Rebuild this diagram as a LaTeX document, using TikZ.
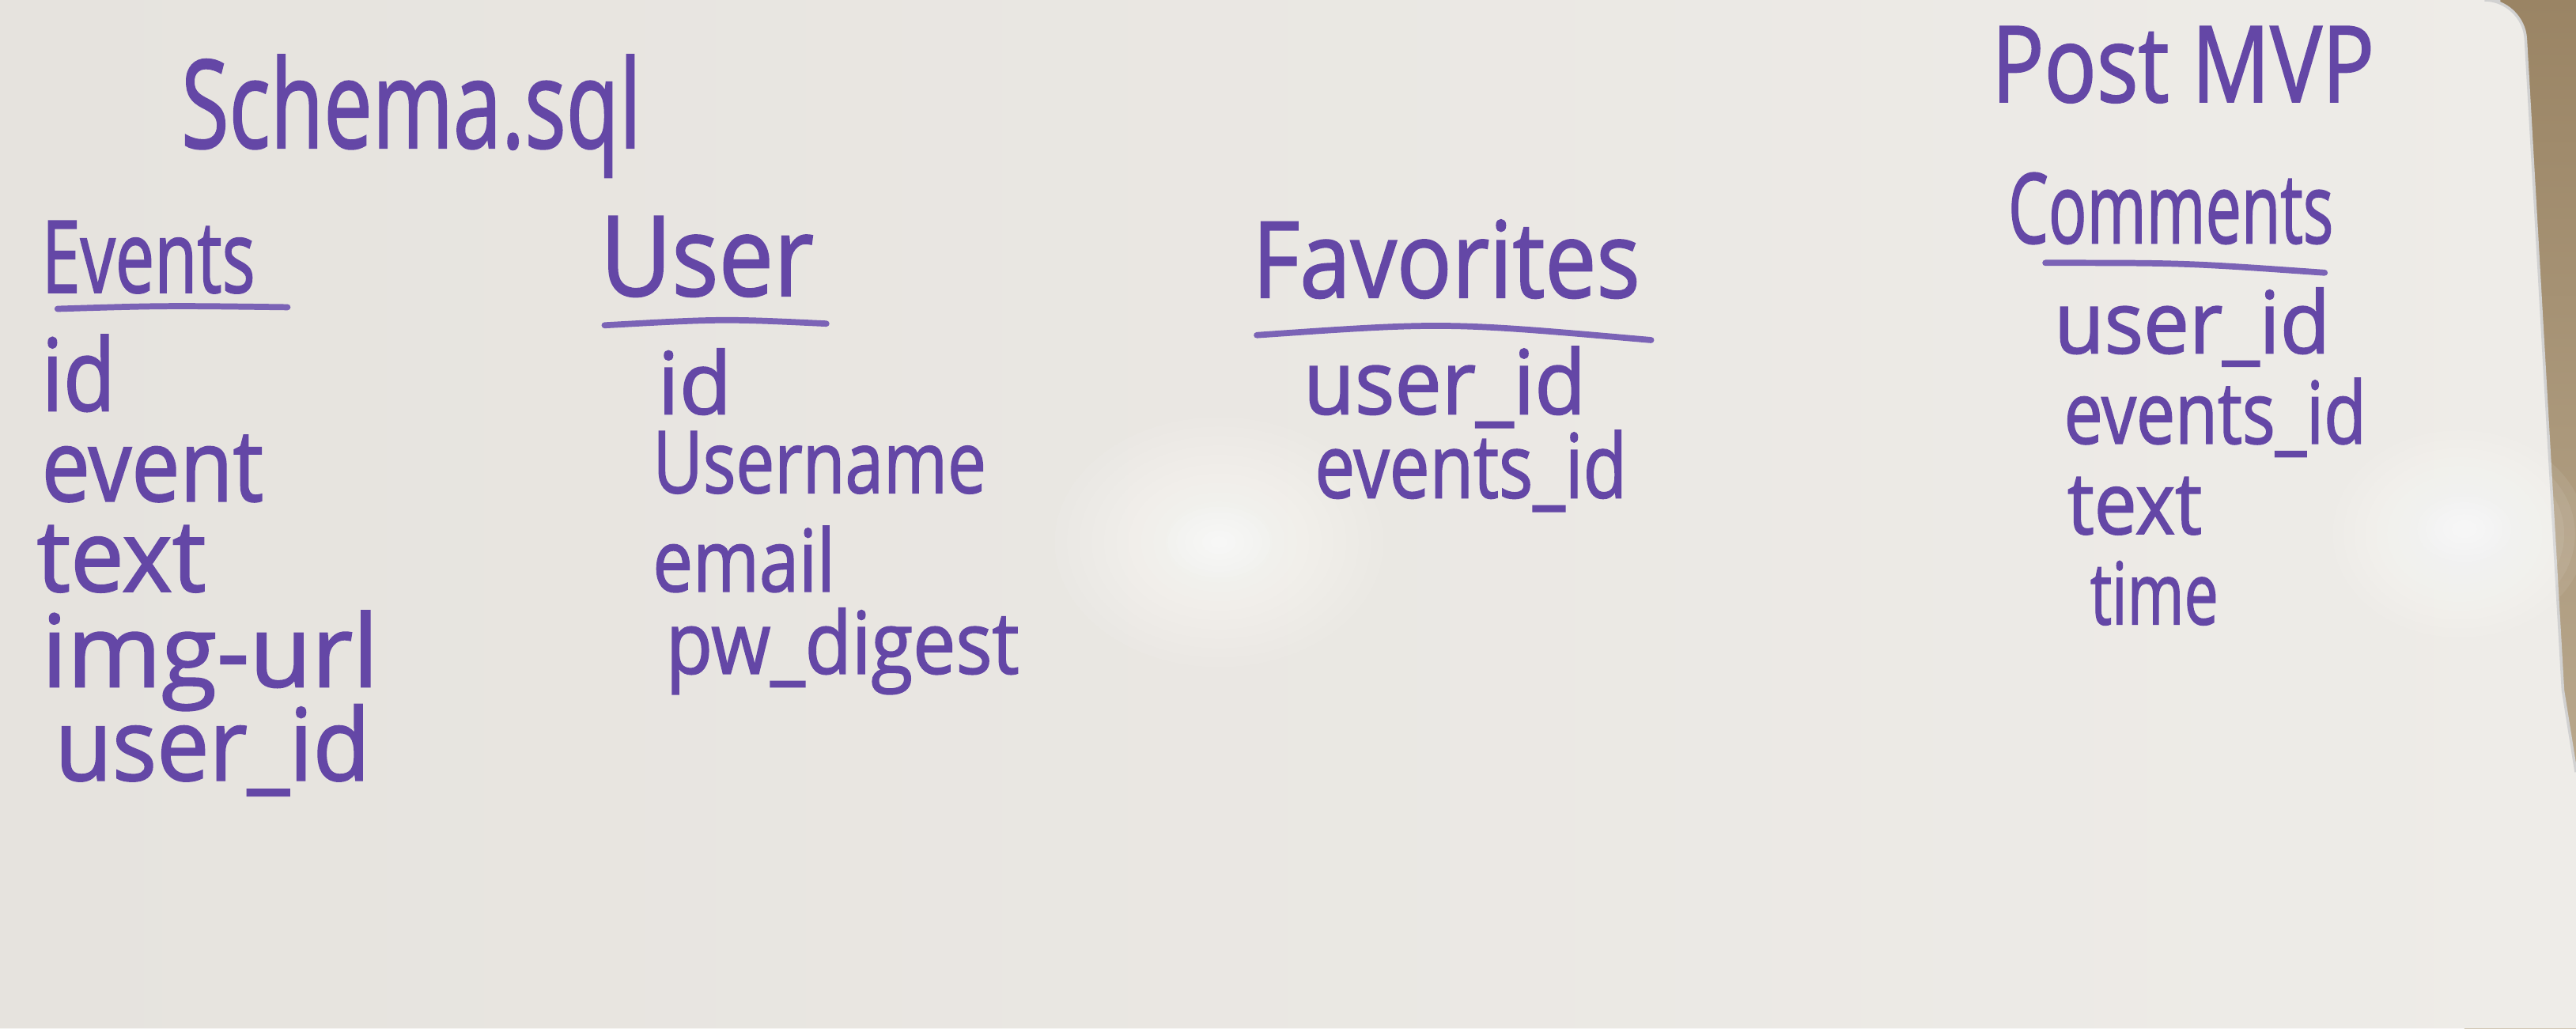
\documentclass[tikz,border=0pt]{standalone}
\usepackage{fontspec}
\setmainfont{Open Sans}
\newfontfamily\hwfont{Open Sans}[FakeBold=1.6]
\usepackage{graphicx}
\definecolor{boardL}{HTML}{E6E3DE}
\definecolor{boardR}{HTML}{EEECE8}
\definecolor{ink}{HTML}{6447A6}
\definecolor{inkL}{HTML}{7B63B6}
\definecolor{woodT}{HTML}{9A8464}
\definecolor{woodB}{HTML}{C2B39A}
\newlength\dpxunit
\setlength\dpxunit{0.02077cm}
\newcommand\hwtext[3]{\resizebox{#1\dpxunit}{\height}{\fontsize{#2}{#2}\selectfont\hwfont #3}}
\begin{document}
\begin{tikzpicture}[x=0.02077cm, y=-0.02077cm,
  hw/.style={anchor=base west, inner sep=0pt, text=ink},
  uline/.style={draw=inkL, line width=2.2pt, line cap=round}]
\useasboundingbox (0,0) rectangle (1568,626);
% wall / frame behind board
\shade[top color=woodT, bottom color=woodB] (1500,0) rectangle (1568,626);
% board
\shade[left color=boardL, right color=boardR]
  (0,626) -- (0,0) [rounded corners=14] -- (1536,0) [sharp corners] -- (1560,420) -- (1568,470) -- (1568,626) -- cycle;
\draw[black!18, line width=1pt] (1522,0) [rounded corners=14] -- (1536,0) [sharp corners] -- (1560,420) -- (1568,470);
% glare
\foreach \r in {80,74,...,8}
  \fill[white, opacity=0.07] (742,330) ellipse ({\r*1.25} and {\r*0.95});
\foreach \r in {24,20,...,4}
  \fill[white, opacity=0.12] (742,330) ellipse ({\r*1.3} and {\r*0.9});
\foreach \r in {70,64,...,8}
  \fill[white, opacity=0.07] (1497,325) ellipse ({\r*1.1} and {\r*0.9});
\foreach \r in {22,18,...,4}
  \fill[white, opacity=0.12] (1500,322) ellipse ({\r*1.3} and {\r*0.9});

% title
\node[hw] (schema) at (110,90) {\hwtext{280}{44pt}{Schema.sql}};

% Events
\node[hw] (events) at (25,178) {\hwtext{130}{36pt}{Events}};
\draw[uline] (35,188) .. controls (100,186) .. (175,187);
\node[hw] (ev1) at (25,250) {\hwtext{45}{36pt}{id}};
\node[hw] (ev2) at (25,305) {\hwtext{135}{36pt}{event}};
\node[hw] (ev3) at (22,360) {\hwtext{103}{36pt}{text}};
\node[hw] (ev4) at (25,418) {\hwtext{205}{36pt}{img-url}};
\node[hw] (ev5) at (33,475) {\hwtext{192}{36pt}{user\_id}};

% User
\node[hw] (user) at (365,180) {\hwtext{130}{40pt}{User}};
\draw[uline] (368,198) .. controls (440,194) .. (503,197);
\node[hw] (us1) at (400,252) {\hwtext{45}{31pt}{id}};
\node[hw] (us2) at (397,300) {\hwtext{203}{31pt}{Username}};
\node[hw] (us3) at (397,360) {\hwtext{111}{31pt}{email}};
\node[hw] (us4) at (405,410) {\hwtext{215}{31pt}{pw\_digest}};

% Favorites
\node[hw] (fav) at (762,181) {\hwtext{236}{38pt}{Favorites}};
\draw[uline] (765,204) .. controls (880,196) .. (1005,207);
\node[hw] (fa1) at (793,252) {\hwtext{172}{32pt}{user\_id}};
\node[hw] (fa2) at (800,303) {\hwtext{190}{32pt}{events\_id}};

% Post MVP
\node[hw] (post) at (1212,62) {\hwtext{233}{38pt}{Post MVP}};
\node[hw] (comm) at (1222,148) {\hwtext{198}{35pt}{Comments}};
\draw[uline] (1245,160) .. controls (1330,160) .. (1415,166);
\node[hw] (co1) at (1250,215) {\hwtext{168}{31pt}{user\_id}};
\node[hw] (co2) at (1256,270) {\hwtext{184}{31pt}{events\_id}};
\node[hw] (co3) at (1258,325) {\hwtext{82}{31pt}{text}};
\node[hw] (co4) at (1272,380) {\hwtext{78}{31pt}{time}};
\end{tikzpicture}
\end{document}
